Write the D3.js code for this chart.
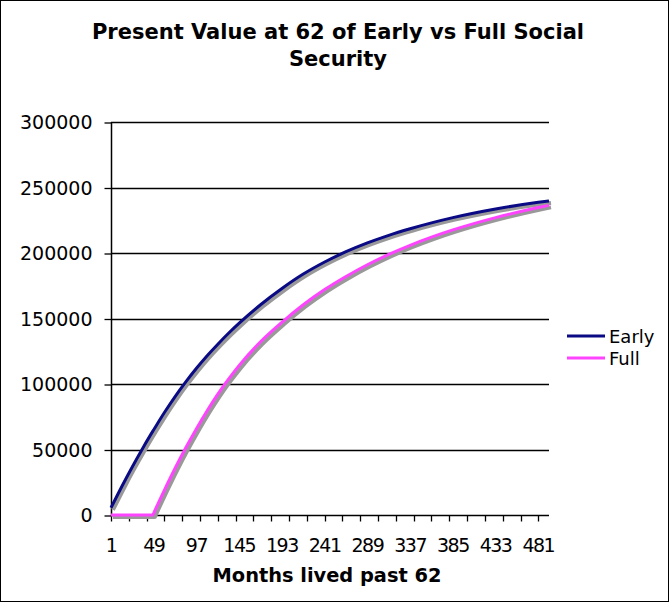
<!DOCTYPE html>
<html>
<head>
<meta charset="utf-8">
<script src="https://cdn.jsdelivr.net/npm/d3@7"></script>
<style>
  html, body { margin: 0; padding: 0; background: #fff; }
  svg { display: block; }
  text { font-family: "DejaVu Sans", Verdana, sans-serif; fill: #000; }
</style>
</head>
<body>
<svg id="chart" width="671" height="604"></svg>
<script>
// ---- data ----
const titleLines = ["Present Value at 62 of Early vs Full Social", "Security"];
const xAxisTitle = "Months lived past 62";
const seriesNames = ["Early", "Full"];
const seriesColors = ["#0a0a84", "#ff44ff"];

const months = [1, 13, 25, 37, 48, 49, 61, 73, 85, 97, 109, 121, 133, 145, 169, 193, 217, 241, 265, 289, 313, 337, 361, 385, 433, 481, 493];
const earlyValues = [5500, 21600, 36900, 51400, 64000, 65100, 78200, 90400, 101600, 112000, 121600, 130400, 138700, 146400, 160500, 172900, 183900, 193100, 201000, 207700, 213500, 218500, 223000, 227000, 233600, 238700, 239800];
const fullValues = [0, 0, 0, 0, 0, 1500, 19000, 35700, 51300, 65900, 79600, 92300, 103700, 114200, 132200, 147100, 160500, 172100, 182100, 191000, 198900, 205900, 212100, 217600, 227000, 234700, 236400];

const yTicks = [0, 50000, 100000, 150000, 200000, 250000, 300000];
const xLabelMonths = [1, 49, 97, 145, 193, 241, 289, 337, 385, 433, 481];
const xTickMonths = d3.range(1, 482, 20);
const lastMonth = 493;

// ---- layout ----
const svg = d3.select("#chart");
const L = 111, R = 549, T = 122, B = 515;

const x = d3.scaleLinear().domain([1, lastMonth]).range([L, R]);
const y = d3.scaleLinear().domain([0, 300000]).range([B, T]);

// outer border
svg.append("rect").attr("x", 0.5).attr("y", 0.5).attr("width", 668).attr("height", 601)
  .attr("fill", "#fff").attr("stroke", "#000").attr("stroke-width", 1);

// title
function fitText(sel, target) {
  const w = sel.node().getComputedTextLength();
  const fs = parseFloat(sel.attr("font-size"));
  sel.attr("font-size", (fs * target / w).toFixed(2));
}
const t1 = svg.append("text").attr("x", 338).attr("y", 38.5).attr("text-anchor", "middle")
  .attr("font-weight", "bold").attr("font-size", 19).text(titleLines[0]);
fitText(t1, 492);
const fsTitle = t1.attr("font-size");
svg.append("text").attr("x", 338).attr("y", 65.7).attr("text-anchor", "middle")
  .attr("font-weight", "bold").attr("font-size", fsTitle).text(titleLines[1]);

// gridlines
svg.append("g").selectAll("line").data(yTicks.filter(d => d > 0)).join("line")
  .attr("x1", L).attr("x2", R)
  .attr("y1", d => Math.round(y(d)) + 0.5).attr("y2", d => Math.round(y(d)) + 0.5)
  .attr("stroke", "#000").attr("stroke-width", 1.3);

// y axis
const yAxis = d3.axisLeft(y).tickValues(yTicks).tickSize(7).tickPadding(12).tickFormat(d3.format("d"));
const gy = svg.append("g").attr("transform", `translate(${L + 0.5},0.5)`).call(yAxis);
gy.select(".domain").remove();
gy.selectAll(".tick line").attr("stroke", "#000").attr("stroke-width", 1.3);
gy.selectAll(".tick text").attr("font-size", 19).attr("font-family", "DejaVu Sans, sans-serif").attr("fill", "#000");
svg.append("line").attr("x1", L + 0.5).attr("x2", L + 0.5).attr("y1", T).attr("y2", B + 0.5)
  .attr("stroke", "#000").attr("stroke-width", 1.5);

// x axis
const gx = svg.append("g").attr("transform", `translate(0,${B + 0.5})`);
gx.append("line").attr("x1", L).attr("x2", R).attr("y1", 0).attr("y2", 0)
  .attr("stroke", "#000").attr("stroke-width", 1.5);
gx.selectAll("line.tk").data(xTickMonths).join("line").attr("class", "tk")
  .attr("x1", d => Math.round(x(d)) + 0.5).attr("x2", d => Math.round(x(d)) + 0.5)
  .attr("y1", 0).attr("y2", 6).attr("stroke", "#000").attr("stroke-width", 1.3);
gx.selectAll("text").data(xLabelMonths).join("text")
  .attr("x", d => x(d)).attr("y", 36.5).attr("text-anchor", "middle")
  .attr("font-size", 19).attr("letter-spacing", "-1.5px").text(d => d);

// x title
const xt = svg.append("text").attr("x", 327).attr("y", 582).attr("text-anchor", "middle")
  .attr("font-weight", "bold").attr("font-size", 17).text(xAxisTitle);
fitText(xt, 229);

// lines
const line = d3.line().x(d => x(d[0])).y(d => y(d[1])).curve(d3.curveMonotoneX);
const series = [earlyValues, fullValues].map(v => months.map((m, i) => [m, v[i]]));
const g = svg.append("g");
series.forEach((s, i) => {
  g.append("path").datum(s).attr("d", line).attr("fill", "none")
    .attr("stroke", "#999").attr("stroke-width", 4).attr("transform", "translate(2,2)")
    .attr("stroke-linejoin", "round");
  g.append("path").datum(s).attr("d", line).attr("fill", "none")
    .attr("stroke", seriesColors[i]).attr("stroke-width", 3).attr("stroke-linejoin", "round");
});

// legend
const leg = svg.append("g");
seriesNames.forEach((n, i) => {
  const ly = 336 + i * 22;
  leg.append("line").attr("x1", 567).attr("x2", 605).attr("y1", ly).attr("y2", ly)
    .attr("stroke", seriesColors[i]).attr("stroke-width", 3);
  leg.append("text").attr("x", 609).attr("y", ly + 6.5).attr("font-size", 18).text(n);
});
</script>
</body>
</html>
